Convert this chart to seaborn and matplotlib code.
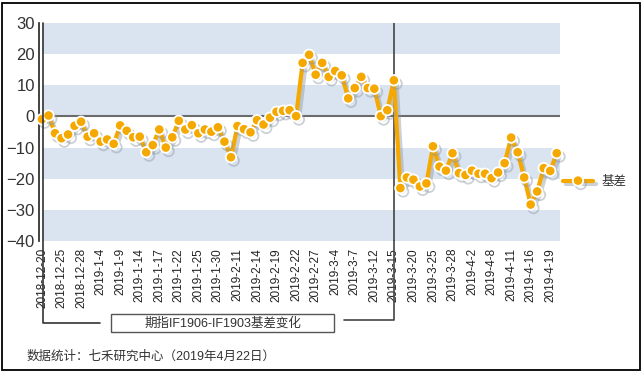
import numpy as np
import pandas as pd
import matplotlib
matplotlib.use("Agg")
import matplotlib.pyplot as plt
import matplotlib.patheffects as pe
from matplotlib.lines import Line2D
from matplotlib.patches import Rectangle
import seaborn as sns

# trading days, 2018-12-20 .. 2019-4-22
dates = ["2018-12-20", "2018-12-21", "2018-12-24", "2018-12-25", "2018-12-26", "2018-12-27", "2018-12-28",
         "2019-1-2", "2019-1-3", "2019-1-4", "2019-1-7", "2019-1-8", "2019-1-9", "2019-1-10", "2019-1-11",
         "2019-1-14", "2019-1-15", "2019-1-16", "2019-1-17", "2019-1-18", "2019-1-21", "2019-1-22",
         "2019-1-23", "2019-1-24", "2019-1-25", "2019-1-28", "2019-1-29", "2019-1-30", "2019-1-31",
         "2019-2-1", "2019-2-11", "2019-2-12", "2019-2-13", "2019-2-14", "2019-2-15", "2019-2-18",
         "2019-2-19", "2019-2-20", "2019-2-21", "2019-2-22", "2019-2-25", "2019-2-26", "2019-2-27",
         "2019-2-28", "2019-3-1", "2019-3-4", "2019-3-5", "2019-3-6", "2019-3-7", "2019-3-8",
         "2019-3-11", "2019-3-12", "2019-3-13", "2019-3-14", "2019-3-15", "2019-3-18", "2019-3-19",
         "2019-3-20", "2019-3-21", "2019-3-22", "2019-3-25", "2019-3-26", "2019-3-27", "2019-3-28",
         "2019-3-29", "2019-4-1", "2019-4-2", "2019-4-3", "2019-4-4", "2019-4-8", "2019-4-9",
         "2019-4-10", "2019-4-11", "2019-4-12", "2019-4-15", "2019-4-16", "2019-4-17", "2019-4-18",
         "2019-4-19", "2019-4-22"]

basis = [-0.9, 0.3, -5.4, -7.0, -5.8, -3.0, -1.7, -6.5, -5.4, -8.1,
         -7.4, -8.8, -2.9, -4.6, -6.7, -6.5, -11.5, -9.2, -4.2, -10.0,
         -6.7, -1.4, -4.2, -2.8, -5.4, -4.2, -4.9, -3.5, -8.1, -13.1,
         -3.1, -4.1, -5.1, -1.2, -2.6, -0.4, 1.5, 1.8, 2.0, 0.1,
         17.2, 19.8, 13.4, 17.2, 12.7, 14.6, 13.2, 5.8, 9.1, 12.7,
         9.1, 8.9, 0.1, 2.0, 11.6, -23.0, -19.6, -20.3, -22.5, -21.5,
         -9.6, -16.1, -17.4, -11.8, -18.2, -18.8, -17.4, -18.4, -18.4, -19.8,
         -18.0, -15.0, -6.8, -11.5, -19.6, -28.3, -24.1, -16.6, -17.5, -11.8]

tick_step = 3
split_date = "2019-3-15"
series_name = "基差"
box_text = "期指IF1906-IF1903基差变化"
source_text = "数据统计：七禾研究中心（2019年4月22日）"

sns.set_style("white")
plt.rcParams["font.family"] = ["Liberation Sans", "Noto Sans CJK SC"]

df = pd.DataFrame({"idx": np.arange(len(dates)), "date": dates, "basis": basis})

W, H = 644, 375
def fy(py):
    return 1 - py / H

fig = plt.figure(figsize=(6.44, 3.75), dpi=100)
ax = fig.add_axes([42 / W, fy(241), 518 / W, 218 / H])

# alternating bands
for lo in (20, 0, -20, -40):
    ax.axhspan(lo, lo + 10, color="#DAE4F0", lw=0, zorder=0)
ax.axhline(0, color="#6b6b6b", lw=1.5, zorder=1)
split_i = dates.index(split_date)
ax.axvline(split_i, color="#444444", lw=1.2, zorder=1)

sns.lineplot(data=df, x="idx", y="basis", ax=ax, color="#F5A800", lw=3,
             marker="o", markersize=7.5, markeredgecolor="white", markeredgewidth=1.3,
             label=series_name, zorder=3, clip_on=False,
             path_effects=[pe.SimpleLineShadow(offset=(2, -2.5), shadow_color="#8d99a6", alpha=0.45),
                           pe.Normal()])

ax.set_xlim(0, 79.5)
ax.set_ylim(-40, 30)
ax.set_xlabel("")
ax.set_ylabel("")
for s in ("top", "right", "bottom"):
    ax.spines[s].set_visible(False)
ax.spines["left"].set_position(("outward", 2.2))
ax.spines["left"].set_color("#222222")
ax.spines["left"].set_linewidth(1.2)

ax.set_yticks(np.arange(-40, 31, 10))
ax.tick_params(axis="y", length=0, pad=3, labelsize=12, labelcolor="#333333")
ax.set_xticks(df["idx"][::tick_step])
ax.set_xticklabels(df["date"][::tick_step], rotation=90, fontsize=8.5, color="#222222")
ax.tick_params(axis="x", length=0, pad=5)

ax.legend(loc="center left", bbox_to_anchor=(563 / W, fy(182)), bbox_transform=fig.transFigure,
          frameon=False, fontsize=9, handlelength=2.4, handletextpad=0.7,
          borderpad=0, borderaxespad=0, labelcolor="#333333")

# bracket lines below the axis
fig.add_artist(Line2D([42.7 / W, 42.7 / W, 100 / W], [fy(23), fy(323), fy(323)],
                      color="#333333", lw=1.2))
xs = ax.transData.transform((split_i, 0))[0] / W
fig.add_artist(Line2D([xs, xs, 344 / W], [fy(241), fy(320), fy(320)], color="#444444", lw=1.2))

fig.add_artist(Rectangle((111 / W, fy(332)), (334 - 111) / W, 18 / H, transform=fig.transFigure,
                         facecolor="white", edgecolor="#555555", lw=1))
fig.text(222.5 / W, fy(323), box_text, ha="center", va="center", fontsize=9, color="#333333")
fig.text(27 / W, fy(356.5), source_text, ha="left", va="center", fontsize=9, color="#333333")

fig.add_artist(Rectangle((2 / W, fy(370)), 638 / W, 367 / H, transform=fig.transFigure,
                         fill=False, edgecolor="black", lw=1.3))

fig.savefig("out.png", dpi=100)
